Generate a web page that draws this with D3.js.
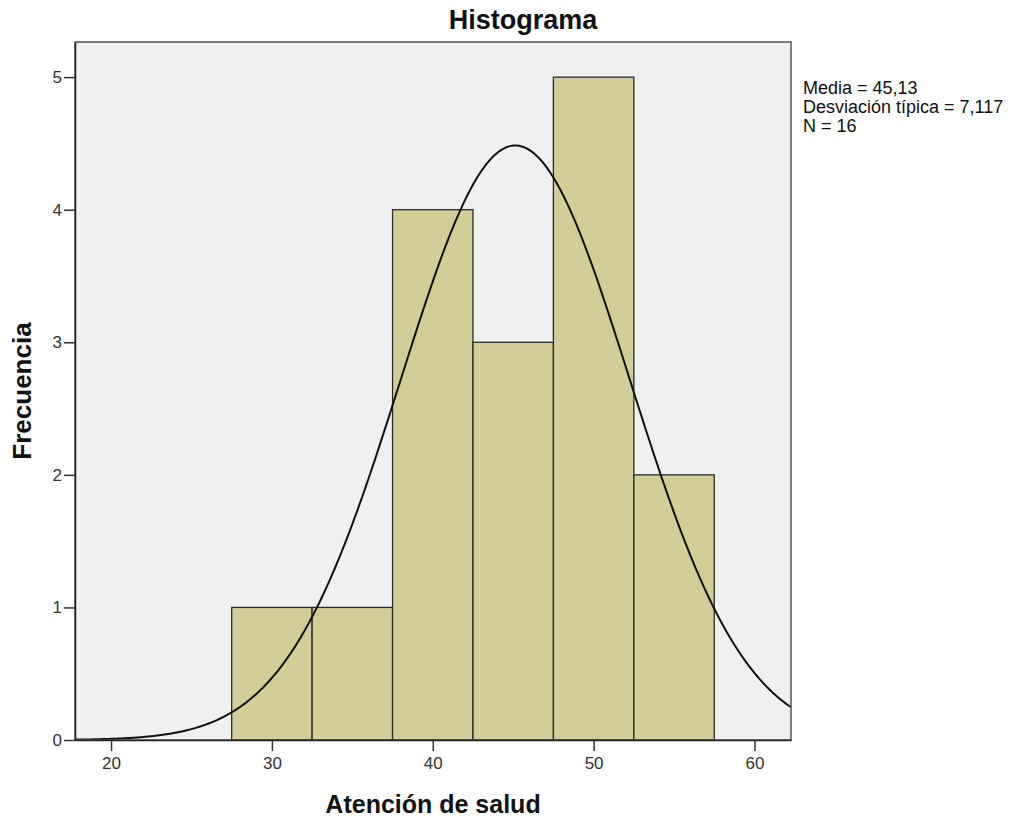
<!DOCTYPE html>
<html>
<head>
<meta charset="utf-8">
<script src="https://cdn.jsdelivr.net/npm/d3@7"></script>
<style>
  html, body { margin: 0; padding: 0; background: #ffffff; }
  svg { display: block; }
  text { font-family: "Liberation Sans", Arial, sans-serif; }
</style>
</head>
<body>
<svg id="chart" width="1015" height="818"></svg>
<script>
// ---- data ----
const binStarts = [27.5, 32.5, 37.5, 42.5, 47.5, 52.5];
const binWidth = 5;
const counts = [1, 1, 4, 3, 5, 2];
const xTicks = [20, 30, 40, 50, 60];
const yTicks = [0, 1, 2, 3, 4, 5];
const mean = 45.13;
const sd = 7.117;
const n = 16;
const statsLines = ["Media = 45,13", "Desviación típica = 7,117", "N = 16"];
const title = "Histograma";
const xLabel = "Atención de salud";
const yLabel = "Frecuencia";

// ---- layout ----
const svg = d3.select("#chart");
const pL = 75, pR = 791, pT = 42, pB = 740;

const x = d3.scaleLinear().domain([17.76, 62.27]).range([pL, pR]);
const y = d3.scaleLinear().domain([0, 5.265]).range([pB, pT]);

// plot background
svg.append("rect")
  .attr("x", pL).attr("y", pT)
  .attr("width", pR - pL).attr("height", pB - pT)
  .attr("fill", "#f0f0f0");

// bars
svg.append("g").selectAll("rect")
  .data(binStarts.map((s, i) => ({ s, c: counts[i] })))
  .join("rect")
  .attr("x", d => x(d.s))
  .attr("y", d => y(d.c))
  .attr("width", d => x(d.s + binWidth) - x(d.s))
  .attr("height", d => y(0) - y(d.c))
  .attr("fill", "#d3ce97")
  .attr("stroke", "#2a2a2a")
  .attr("stroke-width", 1.3);

// normal curve from stated mean / sd / n
const xs = d3.range(0, 401).map(i => 17.76 + (62.27 - 17.76) * i / 400);
const pdf = v => n * binWidth * Math.exp(-0.5 * ((v - mean) / sd) ** 2) / (sd * Math.sqrt(2 * Math.PI));
svg.append("path")
  .datum(xs)
  .attr("d", d3.line().x(v => x(v)).y(v => y(pdf(v))))
  .attr("fill", "none")
  .attr("stroke", "#111")
  .attr("stroke-width", 2);

// frame
svg.append("rect")
  .attr("x", pL).attr("y", pT)
  .attr("width", pR - pL).attr("height", pB - pT)
  .attr("fill", "none")
  .attr("stroke", "#555")
  .attr("stroke-width", 1.5);

// axes
const xAxis = d3.axisBottom(x).tickValues(xTicks).tickFormat(d3.format("d"))
  .tickSize(11).tickPadding(6).tickSizeOuter(0);
const gx = svg.append("g").attr("transform", `translate(0,${pB})`).call(xAxis);
gx.select(".domain").attr("stroke", "#222").attr("stroke-width", 1.5);
gx.selectAll(".tick line").attr("stroke", "#333").attr("stroke-width", 1.5);
gx.selectAll(".tick text").attr("font-size", 17).attr("fill", "#333")
  .attr("font-family", "'Liberation Sans', Arial, sans-serif");

const yAxis = d3.axisLeft(y).tickValues(yTicks).tickFormat(d3.format("d"))
  .tickSize(11).tickPadding(2).tickSizeOuter(0);
const gy = svg.append("g").attr("transform", `translate(${pL},0)`).call(yAxis);
gy.select(".domain").attr("stroke", "#222").attr("stroke-width", 1.5);
gy.selectAll(".tick line").attr("stroke", "#333").attr("stroke-width", 1.5);
gy.selectAll(".tick text").attr("font-size", 17).attr("fill", "#333")
  .attr("font-family", "'Liberation Sans', Arial, sans-serif");

// title
svg.append("text")
  .attr("x", 523).attr("y", 29)
  .attr("text-anchor", "middle")
  .attr("font-size", 27).attr("font-weight", "bold")
  .attr("fill", "#111")
  .text(title);

// x label
svg.append("text")
  .attr("x", 433).attr("y", 813)
  .attr("text-anchor", "middle")
  .attr("font-size", 25).attr("font-weight", "bold")
  .attr("fill", "#111")
  .text(xLabel);

// y label
svg.append("text")
  .attr("transform", "translate(31,391) rotate(-90)")
  .attr("text-anchor", "middle")
  .attr("font-size", 26).attr("font-weight", "bold")
  .attr("fill", "#111")
  .text(yLabel);

// stats
svg.append("g").selectAll("text")
  .data(statsLines)
  .join("text")
  .attr("x", 803)
  .attr("y", (d, i) => 94 + i * 18.8)
  .attr("font-size", 18)
  .attr("fill", "#111")
  .text(d => d);
</script>
</body>
</html>
